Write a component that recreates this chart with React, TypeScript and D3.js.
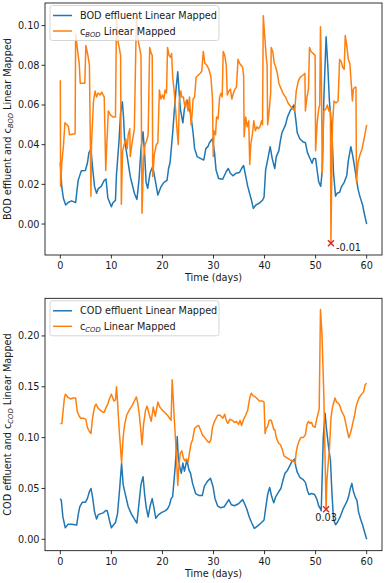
import React from "react";
import * as d3 from "d3";

// [day, value] samples
const bodEffluent: [number, number][] = [
  [0, 0.031], [0.27, 0.019], [0.6, 0.013], [1.05, 0.0096], [1.6, 0.011], [2.2, 0.0117], [3.0, 0.0108],
  [3.2, 0.0155], [3.5, 0.022], [4.1, 0.0268], [4.9, 0.027], [5.3, 0.0306], [5.6, 0.036], [6.0, 0.0377],
  [6.3, 0.029], [6.7, 0.019], [7.1, 0.0155], [7.4, 0.0177], [8.0, 0.019], [8.6, 0.022], [8.95, 0.0227],
  [9.3, 0.0133], [10.0, 0.0087], [10.3, 0.0107], [10.8, 0.012], [11.0, 0.025], [11.5, 0.042], [11.8, 0.056],
  [12.15, 0.0616], [12.4, 0.053], [12.6, 0.042], [13.1, 0.034], [13.7, 0.024], [14.5, 0.0155], [15.0, 0.0124],
  [15.4, 0.022], [15.8, 0.0378], [16.2, 0.0465], [16.5, 0.036], [16.8, 0.021], [17.1, 0.018], [17.6, 0.026],
  [18.1, 0.029], [18.65, 0.0213], [19.1, 0.0146], [19.7, 0.0187], [20.3, 0.021], [20.9, 0.022], [21.2, 0.028],
  [21.5, 0.031], [22.0, 0.0458], [22.35, 0.058], [22.7, 0.069], [23.0, 0.0767], [23.2, 0.069], [23.5, 0.058],
  [24.0, 0.051], [24.3, 0.058], [24.8, 0.0625], [25.1, 0.059], [25.5, 0.056], [26.0, 0.046], [26.3, 0.038],
  [26.8, 0.034], [27.5, 0.033], [28.1, 0.0323], [28.5, 0.038], [28.9, 0.039], [29.2, 0.041], [29.8, 0.043],
  [30.2, 0.036], [30.5, 0.0272], [31.0, 0.023], [31.8, 0.0226], [32.5, 0.0265], [32.9, 0.028], [33.3, 0.0256],
  [33.8, 0.0243], [34.4, 0.0256], [35.1, 0.026], [35.5, 0.028], [35.9, 0.0295], [36.2, 0.0255], [36.7, 0.019],
  [37.4, 0.0124], [37.8, 0.0079], [38.3, 0.0096], [38.9, 0.0104], [39.6, 0.012], [39.9, 0.0136], [40.2, 0.027],
  [40.7, 0.0336], [41.1, 0.039], [41.5, 0.033], [42.0, 0.028], [42.3, 0.034], [42.8, 0.037], [43.1, 0.042],
  [43.4, 0.046], [44.1, 0.05], [44.5, 0.054], [45.0, 0.057], [45.75, 0.06], [46.1, 0.053], [46.4, 0.046],
  [46.9, 0.043], [47.5, 0.0415], [48.0, 0.041], [48.4, 0.036], [48.9, 0.033], [49.3, 0.0306], [49.6, 0.033],
  [50.0, 0.033], [50.3, 0.027], [50.6, 0.0213], [51.0, 0.019], [51.3, 0.027], [51.6, 0.0624], [52.05, 0.0944],
  [52.4, 0.079], [52.7, 0.062], [53.2, 0.046], [53.5, 0.026], [53.9, 0.014], [54.2, 0.0155], [54.7, 0.016],
  [55.1, 0.019], [55.6, 0.021], [56.1, 0.0245], [56.4, 0.032], [56.9, 0.039], [57.3, 0.034], [57.8, 0.026],
  [58.3, 0.0176], [58.7, 0.0137], [59.2, 0.0096], [59.6, 0.0045], [60.0, 0.0],
];

const cBod: [number, number][] = [
  [0, 0.0725], [0.05, 0.019], [0.3, 0.031], [0.6, 0.039], [0.9, 0.051], [1.3, 0.05], [1.6, 0.049], [1.8, 0.045],
  [2.9, 0.0455], [3.0, 0.096], [3.4, 0.087], [3.7, 0.081], [3.9, 0.071], [4.8, 0.071], [5.0, 0.09], [5.4, 0.085],
  [5.7, 0.08], [6.0, 0.014], [6.1, 0.04], [6.5, 0.062], [6.8, 0.067], [7.1, 0.064], [7.4, 0.066], [7.8, 0.065],
  [8.1, 0.0665], [8.6, 0.064], [8.9, 0.027], [9.1, 0.04], [9.4, 0.057], [9.8, 0.055], [10.3, 0.054], [10.8, 0.054],
  [11.0, 0.104], [11.3, 0.092], [11.6, 0.088], [11.8, 0.085], [11.95, 0.01], [12.2, 0.037], [12.5, 0.04],
  [12.8, 0.043], [13.1, 0.038], [13.3, 0.045], [13.6, 0.048], [13.7, 0.034], [14.0, 0.04], [14.5, 0.048],
  [14.9, 0.105], [15.2, 0.093], [15.5, 0.089], [15.8, 0.085], [16.0, 0.0055], [16.3, 0.033], [16.6, 0.04],
  [16.9, 0.042], [17.2, 0.045], [17.5, 0.089], [17.8, 0.086], [18.0, 0.085], [18.1, 0.024], [18.4, 0.035],
  [18.8, 0.04], [19.1, 0.041], [19.4, 0.0675], [19.7, 0.063], [20.0, 0.065], [20.3, 0.063], [20.5, 0.0675],
  [20.8, 0.066], [21.0, 0.089], [21.3, 0.085], [21.6, 0.084], [21.8, 0.086], [22.0, 0.074], [22.3, 0.067],
  [22.6, 0.057], [22.9, 0.046], [23.1, 0.04], [23.3, 0.062], [23.6, 0.067], [23.8, 0.064], [24.1, 0.064],
  [24.4, 0.059], [24.7, 0.062], [25.0, 0.057], [25.3, 0.064], [25.6, 0.05], [25.8, 0.055], [26.0, 0.063],
  [26.3, 0.064], [26.6, 0.074], [27.0, 0.075], [27.4, 0.076], [27.7, 0.077], [28.0, 0.087], [28.3, 0.081],
  [28.7, 0.08], [29.1, 0.078], [29.5, 0.074], [29.8, 0.063], [29.95, 0.034], [30.1, 0.047], [30.4, 0.045],
  [30.6, 0.054], [30.9, 0.053], [31.2, 0.064], [31.5, 0.066], [31.7, 0.064], [31.9, 0.087], [32.2, 0.085],
  [32.5, 0.08], [32.7, 0.065], [33.0, 0.067], [33.3, 0.068], [33.6, 0.063], [33.9, 0.066], [34.2, 0.068],
  [34.5, 0.069], [34.8, 0.083], [35.1, 0.081], [35.4, 0.08], [35.7, 0.079], [35.9, 0.075], [36.0, 0.044],
  [36.3, 0.054], [36.6, 0.049], [36.9, 0.052], [37.1, 0.03], [37.3, 0.04], [37.6, 0.045], [37.9, 0.052],
  [38.2, 0.047], [38.5, 0.049], [38.8, 0.048], [39.1, 0.049], [39.4, 0.052], [39.6, 0.05], [39.75, 0.105],
  [40.0, 0.096], [40.3, 0.085], [40.5, 0.08], [40.6, 0.05], [40.9, 0.057], [41.1, 0.063], [41.2, 0.066],
  [41.3, 0.089], [41.6, 0.087], [41.9, 0.081], [42.2, 0.079], [42.5, 0.076], [42.8, 0.071], [43.1, 0.069],
  [43.6, 0.066], [44.1, 0.064], [44.6, 0.061], [45.2, 0.059], [45.9, 0.057], [46.2, 0.067], [46.6, 0.072],
  [47.0, 0.074], [47.5, 0.075], [47.9, 0.076], [48.0, 0.057], [48.3, 0.064], [48.6, 0.068], [48.8, 0.089],
  [49.1, 0.087], [49.5, 0.086], [49.9, 0.085], [50.0, 0.037], [50.3, 0.051], [50.6, 0.058], [50.8, 0.06],
  [50.95, 0.0994], [51.1, 0.08], [51.3, 0.026], [51.6, 0.057], [52.0, 0.058], [52.3, 0.06], [52.6, 0.057],
  [52.9, 0.057], [53.0, -0.0097], [53.1, 0.013], [53.3, 0.05], [53.6, 0.062], [54.0, 0.061], [54.4, 0.062],
  [54.7, 0.083], [55.0, 0.082], [55.3, 0.079], [55.6, 0.078], [55.8, 0.095], [56.1, 0.09], [56.4, 0.083],
  [56.7, 0.081], [57.0, 0.07], [57.2, 0.062], [57.4, 0.068], [57.7, 0.069], [57.9, 0.069], [58.0, 0.021],
  [58.3, 0.031], [58.7, 0.035], [59.1, 0.038], [59.5, 0.043], [60.0, 0.05],
];

const codEffluent: [number, number][] = [
  [0, 0.04], [0.2, 0.038], [0.5, 0.022], [0.97, 0.0114], [1.5, 0.0147], [2.2, 0.0147], [3.2, 0.014],
  [3.5, 0.024], [3.8, 0.032], [4.3, 0.0364], [4.9, 0.0364], [5.3, 0.04], [5.7, 0.047], [6.0, 0.05],
  [6.3, 0.042], [6.7, 0.027], [7.1, 0.02], [7.4, 0.024], [7.8, 0.025], [8.4, 0.026], [8.9, 0.0283],
  [9.2, 0.028], [9.7, 0.017], [10.0, 0.0114], [10.4, 0.014], [10.8, 0.0165], [11.2, 0.025], [11.6, 0.0485],
  [12.0, 0.0748], [12.3, 0.054], [12.7, 0.045], [13.3, 0.032], [13.9, 0.025], [14.6, 0.019], [15.0, 0.016],
  [15.4, 0.035], [15.8, 0.054], [16.2, 0.0616], [16.5, 0.045], [16.8, 0.032], [17.2, 0.022], [17.6, 0.033],
  [18.0, 0.04], [18.3, 0.032], [18.7, 0.0207], [19.2, 0.024], [19.8, 0.0262], [20.5, 0.028], [21.0, 0.03],
  [21.4, 0.034], [21.7, 0.04], [22.0, 0.042], [22.5, 0.0715], [22.9, 0.101], [23.1, 0.08], [23.4, 0.071],
  [23.7, 0.065], [24.0, 0.075], [24.3, 0.067], [24.8, 0.078], [25.2, 0.068], [25.5, 0.065], [25.9, 0.055],
  [26.5, 0.045], [27.2, 0.043], [27.8, 0.043], [28.2, 0.052], [28.8, 0.057], [29.4, 0.06], [29.9, 0.052],
  [30.3, 0.04], [30.8, 0.033], [31.4, 0.031], [32.1, 0.032], [33.0, 0.039], [33.5, 0.034], [34.1, 0.033],
  [34.9, 0.035], [35.7, 0.039], [36.0, 0.036], [36.5, 0.03], [37.0, 0.022], [37.5, 0.016], [38.0, 0.0108],
  [38.6, 0.013], [39.3, 0.016], [39.9, 0.019], [40.2, 0.03], [40.6, 0.044], [41.0, 0.051], [41.4, 0.042],
  [41.8, 0.036], [42.2, 0.042], [42.8, 0.047], [43.2, 0.05], [43.6, 0.058], [44.0, 0.065], [44.5, 0.068],
  [45.0, 0.073], [45.4, 0.077], [45.9, 0.079], [46.1, 0.072], [46.4, 0.066], [46.9, 0.061], [47.5, 0.059],
  [48.0, 0.056], [48.4, 0.048], [48.7, 0.044], [49.2, 0.045], [49.8, 0.044], [50.2, 0.04], [50.6, 0.033],
  [50.95, 0.03], [51.1, 0.028], [51.5, 0.1], [51.85, 0.124], [52.1, 0.11], [52.5, 0.092], [52.9, 0.078],
  [53.2, 0.045], [53.5, 0.02], [53.9, 0.0144], [54.3, 0.017], [54.8, 0.022], [55.4, 0.03], [55.8, 0.034],
  [56.2, 0.038], [56.5, 0.043], [56.8, 0.05], [57.1, 0.055], [57.4, 0.047], [57.8, 0.041], [58.1, 0.038],
  [58.4, 0.027], [58.8, 0.02], [59.2, 0.014], [59.6, 0.007], [60.0, 0.0],
];

const cCod: [number, number][] = [
  [0, 0.1135], [0.3, 0.114], [0.6, 0.129], [0.8, 0.139], [1.0, 0.1427], [1.5, 0.1395], [2.0, 0.138],
  [2.5, 0.139], [3.0, 0.139], [3.3, 0.126], [3.7, 0.121], [4.0, 0.119], [4.6, 0.119], [5.0, 0.118],
  [5.3, 0.11], [5.7, 0.106], [6.0, 0.104], [6.3, 0.119], [6.7, 0.13], [7.0, 0.133], [7.4, 0.129],
  [7.8, 0.127], [8.3, 0.125], [8.6, 0.125], [8.9, 0.129], [9.3, 0.133], [9.6, 0.138], [10.0, 0.1427],
  [10.2, 0.14], [10.5, 0.136], [10.8, 0.137], [11.0, 0.15], [11.2, 0.136], [11.5, 0.11], [12.0, 0.075],
  [12.3, 0.1], [12.6, 0.113], [13.0, 0.122], [13.5, 0.127], [14.0, 0.131], [14.6, 0.137], [14.9, 0.14],
  [15.2, 0.133], [15.5, 0.121], [15.8, 0.105], [16.0, 0.093], [16.3, 0.113], [16.7, 0.127], [17.0, 0.131],
  [17.4, 0.123], [17.8, 0.116], [18.2, 0.13], [18.6, 0.121], [19.1, 0.135], [19.5, 0.13], [20.0, 0.127],
  [20.6, 0.124], [21.0, 0.122], [21.4, 0.119], [21.7, 0.117], [21.9, 0.157], [22.1, 0.14], [22.3, 0.12],
  [22.5, 0.103], [22.7, 0.086], [23.0, 0.053], [23.2, 0.07], [23.5, 0.085], [23.8, 0.087], [24.1, 0.08],
  [24.4, 0.077], [24.7, 0.079], [25.0, 0.076], [25.3, 0.085], [25.6, 0.094], [25.9, 0.098], [26.3, 0.109],
  [26.7, 0.111], [27.1, 0.112], [27.5, 0.107], [27.9, 0.102], [28.3, 0.1], [28.9, 0.096], [29.2, 0.095],
  [29.5, 0.098], [29.8, 0.11], [30.2, 0.116], [30.8, 0.122], [31.3, 0.122], [31.8, 0.119], [32.2, 0.123],
  [32.5, 0.117], [32.8, 0.114], [33.2, 0.118], [33.7, 0.117], [34.1, 0.115], [34.5, 0.116], [34.9, 0.113],
  [35.2, 0.117], [35.5, 0.112], [35.9, 0.118], [36.3, 0.122], [36.7, 0.127], [37.1, 0.139], [37.4, 0.1437],
  [37.8, 0.141], [38.2, 0.14], [38.6, 0.138], [39.0, 0.136], [39.6, 0.136], [39.9, 0.135], [40.1, 0.104],
  [40.3, 0.109], [40.6, 0.111], [40.9, 0.117], [41.3, 0.117], [41.6, 0.112], [41.8, 0.108], [42.0, 0.108],
  [42.3, 0.1], [42.7, 0.095], [43.1, 0.093], [43.5, 0.088], [43.8, 0.082], [44.4, 0.08], [45.0, 0.078],
  [45.6, 0.077], [46.0, 0.075], [46.2, 0.086], [46.5, 0.093], [46.8, 0.097], [47.1, 0.1], [47.6, 0.1],
  [48.0, 0.103], [48.3, 0.113], [48.6, 0.116], [48.9, 0.114], [49.2, 0.115], [49.5, 0.111], [49.9, 0.11],
  [50.2, 0.118], [50.5, 0.124], [50.7, 0.128], [50.95, 0.226], [51.25, 0.201], [51.6, 0.143], [51.85, 0.08],
  [52.05, 0.0295], [52.2, 0.057], [52.45, 0.074], [52.7, 0.088], [53.0, 0.119], [53.3, 0.13], [53.8, 0.139],
  [54.1, 0.135], [54.4, 0.134], [54.7, 0.132], [55.0, 0.127], [55.3, 0.124], [55.6, 0.121], [55.9, 0.114],
  [56.2, 0.107], [56.5, 0.1], [56.8, 0.104], [57.1, 0.11], [57.4, 0.117], [57.6, 0.121], [57.9, 0.13],
  [58.2, 0.135], [58.5, 0.139], [58.9, 0.142], [59.4, 0.145], [59.7, 0.152], [60.0, 0.1535],
];

const xTicks = [0, 10, 20, 30, 40, 50, 60];
const bodTicks = [0, 0.02, 0.04, 0.06, 0.08, 0.1];
const codTicks = [0, 0.05, 0.1, 0.15, 0.2];

const BLUE = "#1f77b4";
const ORANGE = "#ff7f0e";
const FONT = "DejaVu Sans, sans-serif";
const FS = 9.7;
const INK = "#1a1a1a";

type Pt = [number, number];

const Panel = ({ top, bottom, yDomain, yTicks, effluent, conc, name, annotBelow }: {
  top: number; bottom: number; yDomain: [number, number]; yTicks: number[];
  effluent: Pt[]; conc: Pt[]; name: string; annotBelow: boolean;
}) => {
  const left = 45, right = 382;
  const x = d3.scaleLinear().domain([-3, 63]).range([left, right]);
  const y = d3.scaleLinear().domain(yDomain).range([bottom, top]);
  const line = d3.line<Pt>().x((d) => x(d[0])).y((d) => y(d[1]));
  const fmt = d3.format(".2f");
  const minPt = conc.reduce((a, b) => (b[1] < a[1] ? b : a));
  const mx = x(minPt[0]), my = y(minPt[1]);
  const cy = (top + bottom) / 2;
  const label = minPt[1].toFixed(2);

  return (
    <g fontFamily={FONT} fontSize={FS} fill={INK}>
      <defs>
        <clipPath id={`clip-${name}`}>
          <rect x={left} y={top} width={right - left} height={bottom - top} />
        </clipPath>
      </defs>
      <g clipPath={`url(#clip-${name})`}>
        <path d={line(effluent) ?? ""} fill="none" stroke={BLUE} strokeWidth={1.5} strokeLinejoin="round" />
        <path d={line(conc) ?? ""} fill="none" stroke={ORANGE} strokeWidth={1.5} strokeLinejoin="round" />
      </g>
      {/* min marker */}
      <g stroke="#d62728" strokeWidth={1.4}>
        <line x1={mx - 3} y1={my - 3} x2={mx + 3} y2={my + 3} />
        <line x1={mx - 3} y1={my + 3} x2={mx + 3} y2={my - 3} />
      </g>
      {annotBelow ? (
        <text x={mx} y={my + 12} textAnchor="middle">{label}</text>
      ) : (
        <text x={mx + 5} y={my + 7.5}>{label}</text>
      )}
      <rect x={left} y={top} width={right - left} height={bottom - top} fill="none" stroke="#000" strokeWidth={0.8} />
      {/* x axis */}
      {xTicks.map((t) => (
        <g key={t}>
          <line x1={x(t)} x2={x(t)} y1={bottom} y2={bottom + 3.5} stroke="#000" strokeWidth={0.8} />
          <text x={x(t)} y={bottom + 14} textAnchor="middle">{t}</text>
        </g>
      ))}
      <text x={(left + right) / 2} y={bottom + 26} textAnchor="middle">Time (days)</text>
      {/* y axis */}
      {yTicks.map((t) => (
        <g key={t}>
          <line x1={left - 3.5} x2={left} y1={y(t)} y2={y(t)} stroke="#000" strokeWidth={0.8} />
          <text x={left - 5.5} y={y(t) + 3.5} textAnchor="end">{fmt(t)}</text>
        </g>
      ))}
      <text transform={`translate(11,${cy}) rotate(-90)`} textAnchor="middle">
        {name} effluent and c
        <tspan fontSize={6.8} fontStyle="italic" dy={2}>{name}</tspan>
        <tspan dy={-2}> Linear Mapped</tspan>
      </text>
      {/* legend */}
      <rect x={50} y={top + 2.5} width={169} height={35} rx={2.5} fill="#fff" fillOpacity={0.8} stroke="#cccccc" strokeWidth={0.8} />
      <line x1={53} x2={72} y1={top + 12.5} y2={top + 12.5} stroke={BLUE} strokeWidth={1.5} />
      <text x={80} y={top + 16}>{name} effluent Linear Mapped</text>
      <line x1={53} x2={72} y1={top + 28} y2={top + 28} stroke={ORANGE} strokeWidth={1.5} />
      <text x={80} y={top + 31.5}>
        c<tspan fontSize={6.8} fontStyle="italic" dy={2}>{name}</tspan>
        <tspan dy={-2}> Linear Mapped</tspan>
      </text>
    </g>
  );
};

export default function App() {
  return (
    <svg width={386} height={583} style={{ position: "absolute", left: 0, top: 0, background: "#fff" }}>
      <Panel top={3} bottom={255} yDomain={[-0.0156, 0.1114]} yTicks={bodTicks}
        effluent={bodEffluent} conc={cBod} name="BOD" annotBelow={false} />
      <Panel top={298.3} bottom={550.7} yDomain={[-0.0112, 0.237]} yTicks={codTicks}
        effluent={codEffluent} conc={cCod} name="COD" annotBelow={true} />
    </svg>
  );
}
